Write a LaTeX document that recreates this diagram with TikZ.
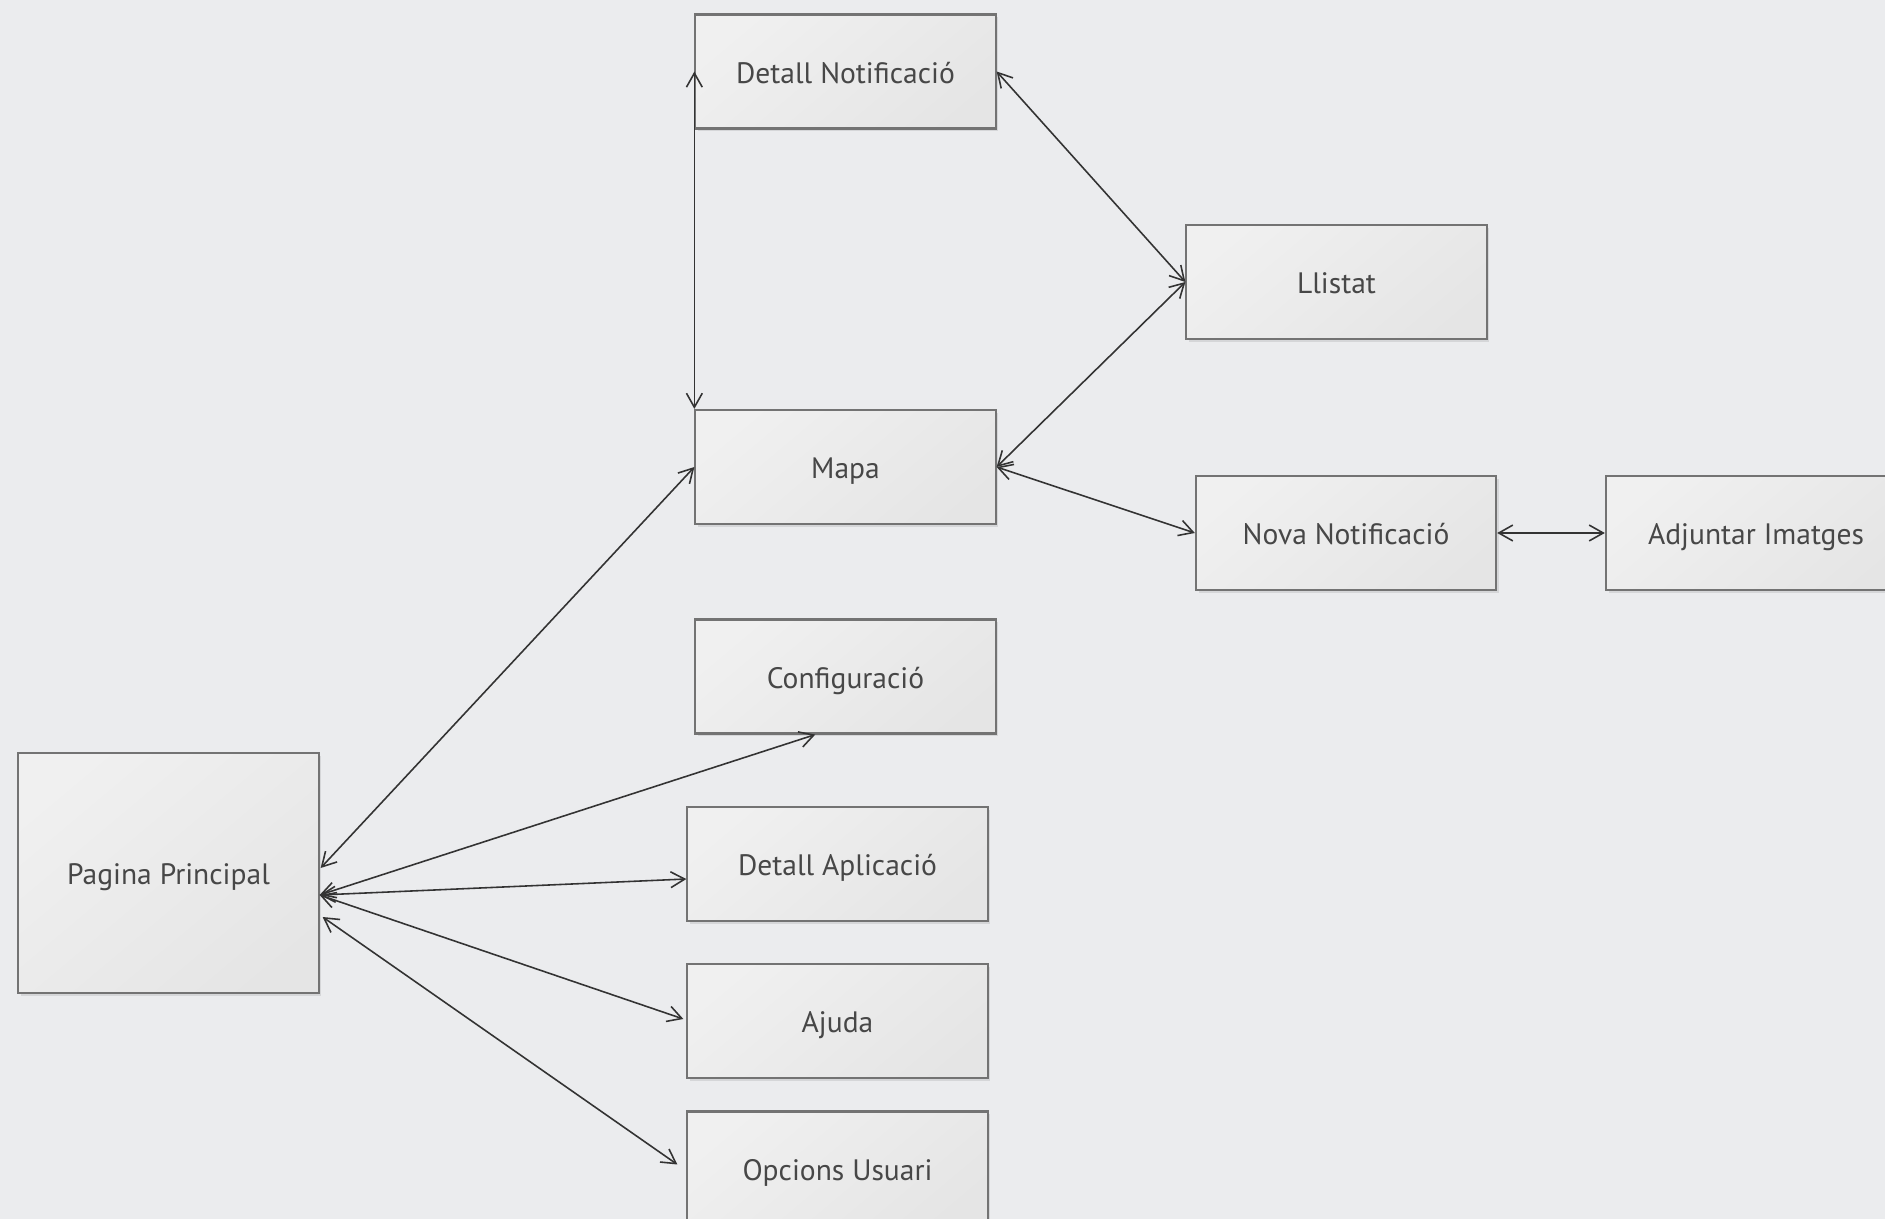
\documentclass[tikz,border=0pt]{standalone}
\usepackage{fontspec}
\setmainfont{PT Sans}
\usetikzlibrary{arrows.meta,calc,shadows}
\definecolor{bg}{HTML}{EBECEE}

\begin{document}
\begin{tikzpicture}[x=0.01cm,y=-0.01cm,
    screen/.style={draw=black!55,line width=0.6pt,
      left color=black!6,middle color=white,right color=black!10,shading angle=40,
      drop shadow={shadow xshift=0.8pt,shadow yshift=-0.8pt,opacity=0.2},
      minimum width=3cm,minimum height=1.14cm,inner sep=0pt,
      text height=6.6pt,text depth=0pt,
      font=\fontsize{8.4}{10}\selectfont,text=black!72},
    link/.style={<->,>={Straight Barb[length=4pt,width=4.5pt]},line width=0.45pt,draw=black!80}]
  \fill[bg,use as bounding box] (0,0) rectangle (1885,1219);

  \node[screen] (DN) at (845.5,71.5) {Detall Notificació};
  \node[screen] (L)  at (1336.5,282) {Llistat};
  \node[screen] (M)  at (845.5,467) {Mapa};
  \node[screen] (NN) at (1346,533) {Nova Notificació};
  \node[screen] (AI) at (1756,533) {Adjuntar Imatges};
  \node[screen] (C)  at (845.5,676.5) {Configuració};
  \node[screen,minimum height=2.4cm] (PP) at (168.5,873) {Pagina Principal};
  \node[screen] (DA) at (837.5,864) {Detall Aplicació};
  \node[screen] (Aj) at (837.5,1021) {Ajuda};
  \node[screen] (OU) at (837.5,1168.5) {Opcions Usuari};

  \coordinate (hub) at ($(PP.east)+(0,22)$);
  \coordinate (up)  at ($(PP.east)+(1,-5)$);
  \coordinate (low) at ($(PP.east)+(3,44)$);

  \draw[link] (DN.west) -- (M.north west);
  \draw[link] (DN.east) -- (L.west);
  \draw[link] (L.west) -- (M.east);
  \draw[link] (M.east) -- (NN.west);
  \draw[link] (NN.east) -- (AI.west);
  \draw[link] (up) -- (M.west);
  \draw[link] (hub) -- ($(C.south west)!0.4!(C.south east)$);
  \draw[link] (hub) -- ($(DA.west)+(0,15)$);
  \draw[link] (hub) -- ($(Aj.west)+(-3,-2)$);
  \draw[link] (low) -- ($(OU.west)+(-9,-4)$);
\end{tikzpicture}
\end{document}
